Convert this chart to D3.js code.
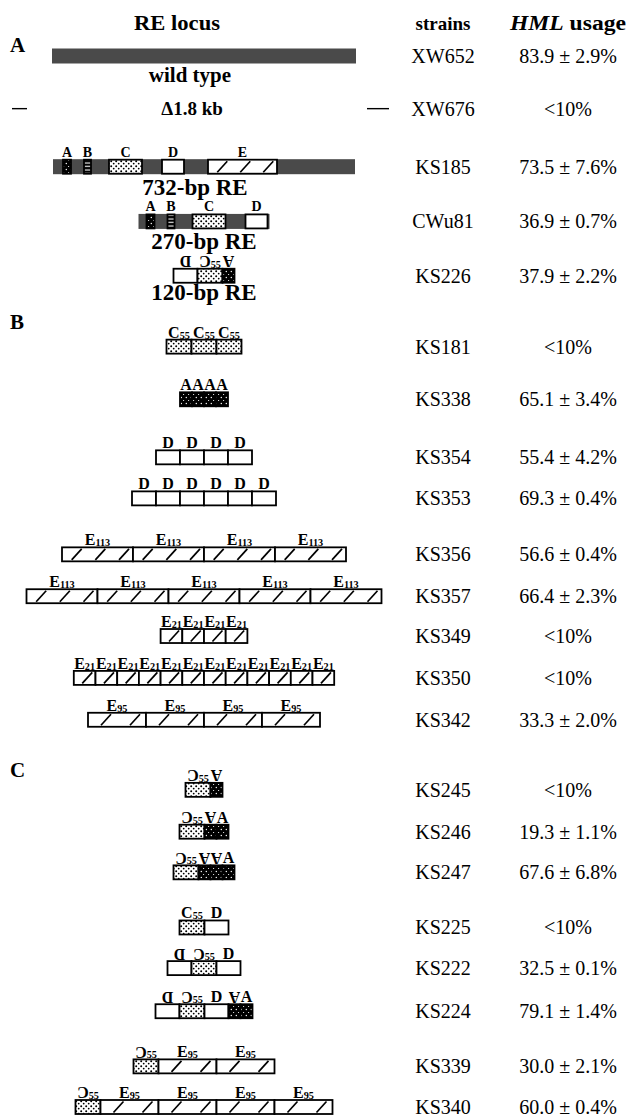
<!DOCTYPE html>
<html>
<head>
<meta charset="utf-8">
<script src="https://cdn.jsdelivr.net/npm/d3@7"></script>
<style>
  body { margin: 0; background: #fff; }
  svg { display: block; }
  svg text { font-family: "Liberation Serif", "Times New Roman", Times, serif; }
</style>
</head>
<body>
<svg id="fig" width="633" height="1120"></svg>
<script>
// ---- data ----
var strains = ["XW652", "XW676", "KS185", "CWu81", "KS226",
  "KS181", "KS338", "KS354", "KS353", "KS356", "KS357", "KS349", "KS350", "KS342",
  "KS245", "KS246", "KS247", "KS225", "KS222", "KS224", "KS339", "KS340"];

var usage = ["83.9 ± 2.9%", "<10%", "73.5 ± 7.6%", "36.9 ± 0.7%", "37.9 ± 2.2%",
  "<10%", "65.1 ± 3.4%", "55.4 ± 4.2%", "69.3 ± 0.4%", "56.6 ± 0.4%", "66.4 ± 2.3%", "<10%", "<10%", "33.3 ± 2.0%",
  "<10%", "19.3 ± 1.1%", "67.6 ± 6.8%", "<10%", "32.5 ± 0.1%", "79.1 ± 1.4%", "30.0 ± 2.1%", "60.0 ± 0.4%"];

// "~" = element in inverted orientation
var constructs = [
  "wt", "del", "re732", "re270",
  ["~D", "~C55", "~A"],
  ["C55", "C55", "C55"],
  ["A", "A", "A", "A"],
  ["D", "D", "D", "D"],
  ["D", "D", "D", "D", "D", "D"],
  ["E113", "E113", "E113", "E113"],
  ["E113", "E113", "E113", "E113", "E113"],
  ["E21", "E21", "E21", "E21"],
  ["E21", "E21", "E21", "E21", "E21", "E21", "E21", "E21", "E21", "E21", "E21", "E21"],
  ["E95", "E95", "E95", "E95"],
  ["~C55", "~A"],
  ["~C55", "~A", "A"],
  ["~C55", "~A", "~A", "A"],
  ["C55", "D"],
  ["~D", "~C55", "D"],
  ["~D", "~C55", "D", "~A", "A"],
  ["~C55", "E95", "E95"],
  ["~C55", "E95", "E95", "E95", "E95"]
];

var subLabels = ["wild type", "Δ1.8 kb", "732-bp RE", "270-bp RE", "120-bp RE"];

// drawn lengths of the repeat units (diagram units)
var unitNames = ["A", "C55", "D", "E113", "E21", "E95"];
var unitLengths = [12, 25, 24, 71, 21.7, 58];

// elements of the 732-bp RE along the locus (diagram units)
var reNames = ["A", "B", "C", "D", "E"];
var reStarts = [10, 31, 56, 109, 155];
var reEnds = [18, 38, 89, 131, 224];
var locusSpan = { wt: [2, 306], re732: [0, 302], re270: [2, 133] };
var deletionFlanks = [[-41, -26], [314, 336]];

var sections = ["A", "B", "C"];

// ---- layout ----
var cx = 204, colStrain = 443, colUsage = 568;
var rowSlot = [0, 1.27, 2.67, 3.99, 5.3, 7.01, 8.28, 9.68, 10.67, 12.02, 13.03, 13.99,
  15.0, 16.01, 17.7, 18.71, 19.69, 21.02, 22.0, 23.04, 24.37, 25.35];
var sectionSlot = [-0.27, 6.41, 17.23];
var y = d3.scaleLinear().domain([0, 25.35]).range([56, 1107]);
var x = d3.scaleLinear().domain([-160, 160]).range([cx - 160, cx + 160]);
var boxH = 14;

var svg = d3.select("#fig");
var defs = svg.append("defs");

var pA = defs.append("pattern").attr("id", "patA").attr("patternUnits", "userSpaceOnUse")
  .attr("width", 5).attr("height", 6);
pA.append("rect").attr("width", 5).attr("height", 6).attr("fill", "#000");
pA.append("circle").attr("cx", 1.3).attr("cy", 1.5).attr("r", 0.7).attr("fill", "#fff");
pA.append("circle").attr("cx", 3.6).attr("cy", 4.5).attr("r", 0.6).attr("fill", "#fff");

var pB = defs.append("pattern").attr("id", "patB").attr("patternUnits", "userSpaceOnUse")
  .attr("width", 4).attr("height", 3.5);
pB.append("rect").attr("width", 4).attr("height", 3.5).attr("fill", "#000");
pB.append("rect").attr("y", 1.4).attr("width", 4).attr("height", 1.1).attr("fill", "#fff");

var pC = defs.append("pattern").attr("id", "patC").attr("patternUnits", "userSpaceOnUse")
  .attr("width", 5).attr("height", 5);
pC.append("rect").attr("width", 5).attr("height", 5).attr("fill", "#fff");
pC.append("circle").attr("cx", 1.2).attr("cy", 1.2).attr("r", 1).attr("fill", "#000");
pC.append("circle").attr("cx", 3.7).attr("cy", 3.6).attr("r", 0.9).attr("fill", "#000");

function fillFor(name) {
  if (name === "A") return "url(#patA)";
  if (name === "B") return "url(#patB)";
  if (name === "C") return "url(#patC)";
  return "#fff";
}

// label such as E113, C55 or an inverted (rotated) letter
function drawLabel(g, token, mid, baseline, fs) {
  var inv = token.charAt(0) === "~";
  var name = inv ? token.slice(1) : token;
  var letter = name.charAt(0), sub = name.slice(1);
  var t1 = g.append("text").attr("font-size", fs).attr("font-weight", "bold").text(letter);
  var w1 = t1.node().getComputedTextLength();
  var t2 = null, w2 = 0;
  if (sub) {
    t2 = g.append("text").attr("font-size", fs * 0.64).attr("font-weight", "bold").text(sub);
    w2 = t2.node().getComputedTextLength();
  }
  var x0 = mid - (w1 + w2) / 2;
  t1.attr("x", x0).attr("y", baseline);
  if (inv) t1.attr("transform", "rotate(180," + (x0 + w1 / 2) + "," + (baseline - fs * 0.33) + ")");
  if (t2) t2.attr("x", x0 + w1).attr("y", baseline + 1);
}

function drawSegment(g, name, x0, x1, top) {
  var base = name.charAt(0);
  var w = x1 - x0;
  g.append("rect").attr("x", x0).attr("y", top).attr("width", w).attr("height", boxH)
    .attr("fill", fillFor(base)).attr("stroke", "#000").attr("stroke-width", 1.8);
  if (base === "E") {
    var n = Math.max(1, Math.round(w / 24));
    for (var i = 0; i < n; i++) {
      var m = x0 + w * (i + 0.62) / n;
      g.append("line").attr("x1", m - 5).attr("y1", top + boxH - 1.5)
        .attr("x2", m + 5).attr("y2", top + 1.5)
        .attr("stroke", "#000").attr("stroke-width", 1.7);
    }
  }
}

// headers
svg.append("text").attr("x", 177).attr("y", 30).attr("text-anchor", "middle")
  .attr("font-size", 20).attr("font-weight", "bold")
  .attr("textLength", 86).attr("lengthAdjust", "spacingAndGlyphs").text("RE locus");
svg.append("text").attr("x", colStrain).attr("y", 30).attr("text-anchor", "middle")
  .attr("font-size", 19).attr("font-weight", "bold").text("strains");
var hh = svg.append("text").attr("x", colUsage).attr("y", 30).attr("text-anchor", "middle")
  .attr("font-size", 20).attr("font-weight", "bold")
  .attr("textLength", 116).attr("lengthAdjust", "spacingAndGlyphs");
hh.append("tspan").attr("font-style", "italic").text("HML");
hh.append("tspan").text(" usage");

svg.selectAll("text.sec").data(sections).enter().append("text").attr("class", "sec")
  .attr("x", 10).attr("y", function(d, i) { return y(sectionSlot[i]) + 7; })
  .attr("font-size", 21).attr("font-weight", "bold").text(function(d) { return d; });

// strain and usage columns
svg.selectAll("text.strain").data(strains).enter().append("text").attr("class", "strain")
  .attr("x", colStrain).attr("y", function(d, i) { return y(rowSlot[i]) + 7; })
  .attr("text-anchor", "middle").attr("font-size", 20).text(function(d) { return d; });
svg.selectAll("text.usage").data(usage).enter().append("text").attr("class", "usage")
  .attr("x", colUsage).attr("y", function(d, i) { return y(rowSlot[i]) + 7; })
  .attr("text-anchor", "middle").attr("font-size", 20).text(function(d) { return d; });

// constructs
constructs.forEach(function(c, i) {
  var g = svg.append("g");
  var yc = y(rowSlot[i]);
  var top = yc - boxH / 2;
  if (c === "del") {
    g.append("text").attr("x", cx - 12).attr("y", yc + 6).attr("text-anchor", "middle")
      .attr("font-size", 19).attr("font-weight", "bold").text(subLabels[1]);
    var shift = x(0) - x(151);
    deletionFlanks.forEach(function(f) {
      g.append("line").attr("x1", x(f[0]) + shift).attr("x2", x(f[1]) + shift)
        .attr("y1", yc).attr("y2", yc).attr("stroke", "#000").attr("stroke-width", 1.4);
    });
    return;
  }
  if (typeof c === "string") {
    var span = locusSpan[c];
    var mid = (span[0] + span[1]) / 2;
    var lx = function(v) { return x(v - mid); };
    g.append("rect").attr("x", lx(span[0])).attr("y", yc - 7.5).attr("width", lx(span[1]) - lx(span[0]))
      .attr("height", 15).attr("fill", "#4a4a4a");
    if (c !== "wt") {
      reNames.forEach(function(nm, k) {
        if (reStarts[k] < span[0] || reEnds[k] > span[1]) return;
        drawSegment(g, nm, lx(reStarts[k]), lx(reEnds[k]), top);
        drawLabel(g, nm, (lx(reStarts[k]) + lx(reEnds[k])) / 2, top - 3, 14);
      });
    }
    var si = c === "wt" ? 0 : (c === "re732" ? 2 : 3);
    var lxMid = si === 0 ? cx - 14 : (si === 2 ? cx - 9 : cx);
    g.append("text").attr("x", lxMid).attr("y", yc + (si === 0 ? 26 : 28)).attr("text-anchor", "middle")
      .attr("font-size", si === 0 ? 21 : 23).attr("font-weight", "bold").text(subLabels[si]);
    return;
  }
  var lens = c.map(function(t) { return unitLengths[unitNames.indexOf(t.replace("~", ""))]; });
  var total = d3.sum(lens);
  var pos = -total / 2;
  c.forEach(function(t, k) {
    var x0 = x(pos), x1 = x(pos + lens[k]);
    drawSegment(g, t.replace("~", ""), x0, x1, top);
    drawLabel(g, t, (x0 + x1) / 2, top - 2, 16);
    pos += lens[k];
  });
  if (i === 4) {
    g.append("text").attr("x", cx).attr("y", yc + 24).attr("text-anchor", "middle")
      .attr("font-size", 23).attr("font-weight", "bold").text(subLabels[4]);
  }
});
</script>
</body>
</html>
